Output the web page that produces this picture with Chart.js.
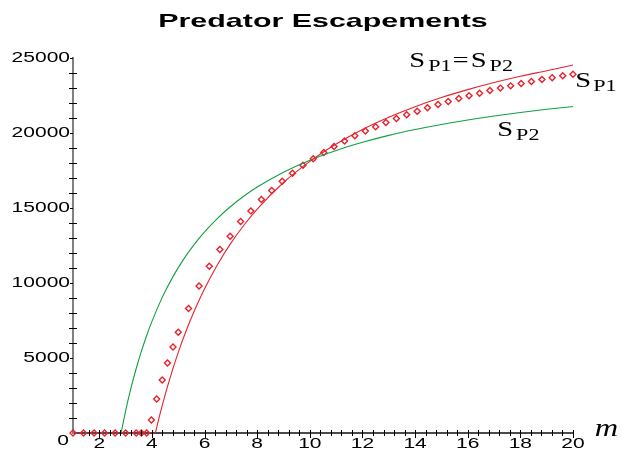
<!DOCTYPE html>
<html><head><meta charset="utf-8">
<script src="https://cdn.jsdelivr.net/npm/chart.js@4/dist/chart.umd.min.js"></script>
<style>html,body{margin:0;padding:0;background:#fff}#wrap{width:622px;height:451px;position:relative}</style>
</head><body><div id="wrap"><canvas id="c" width="622" height="451"></canvas></div>
<script>
// ---- data ----
const titleText = 'Predator Escapements';
const xTickLabels = [2, 4, 6, 8, 10, 12, 14, 16, 18, 20];
const yTickLabels = [0, 5000, 10000, 15000, 20000, 25000];

// S_P1 (diamond markers)
const mSP1 = [1.0, 1.4, 1.8, 2.2, 2.6, 3.0, 3.4, 3.6, 3.8, 3.98, 4.18, 4.39, 4.59, 4.8, 5.0,
  5.39, 5.79, 6.18, 6.58, 6.97, 7.37, 7.76, 8.16, 8.55, 8.95, 9.34, 9.74, 10.13,
  10.53, 10.92, 11.32, 11.71, 12.11, 12.50, 12.89, 13.29, 13.68, 14.08, 14.47, 14.87,
  15.26, 15.66, 16.05, 16.45, 16.84, 17.24, 17.63, 18.03, 18.42, 18.82, 19.21, 19.61, 20.0];
const valSP1 = [0, 0, 0, 0, 0, 0, 0, 0, 0, 870, 2270, 3530, 4670, 5730, 6710,
  8290, 9800, 11110, 12220, 13110, 14090, 14800, 15560, 16160, 16780, 17310, 17840, 18270,
  18690, 19090, 19460, 19800, 20120, 20410, 20690, 20960, 21200, 21440, 21670, 21890,
  22090, 22290, 22470, 22640, 22820, 22980, 23130, 23290, 23420, 23560, 23670, 23800, 23910];

// S_P1 = S_P2 (red line)
const mEq = [4.13, 4.3, 4.5, 4.7, 5.0, 5.3, 5.6, 6.0, 6.5, 7.0, 7.5, 8.0, 9.0, 10, 11, 12, 13, 14, 15, 16, 17, 18, 19, 20];
const valEq = [0, 1220, 2540, 3740, 5370, 6810, 8100, 9610, 11250, 12650, 13860, 14920, 16690, 18100, 19260, 20230, 21040, 21740, 22350, 22880, 23350, 23770, 24140, 24520];

// S_P2 (green line)
const mSP2 = [2.83, 3.0, 3.2, 3.4, 3.6, 3.8, 4.0, 4.4, 4.8, 5.2, 5.6, 6.0, 6.5, 7.0, 7.5, 8.0, 9.0, 10, 11, 12, 13, 14, 15, 16, 17, 18, 19, 20];
const valSP2 = [0, 1480, 2970, 4280, 5450, 6500, 7440, 9070, 10420, 11570, 12550, 13400, 14320, 15110, 15790, 16390, 17380, 18180, 18830, 19370, 19830, 20220, 20560, 20860, 21120, 21360, 21570, 21750];

// ---- styling ----
const RED = '#e8222c', GREEN = '#10a040';
const TICK_SX = 1.5, TITLE_SX = 1.6, SERIF_SX = 1.3;

const pts = (xs, ys) => xs.map((x, i) => ({x: x, y: ys[i]}));

function patchCtx(ctx) {
  if (ctx.__patched) return;
  ctx.__patched = true;
  const orig = ctx.fillText;
  ctx.fillText = function (t, x, y) {
    const f = this.font;
    let sx = 1;
    if (/Liberation Sans/.test(f)) sx = /bold|700/.test(f) ? TITLE_SX : TICK_SX;
    else if (/Liberation Serif/.test(f)) sx = SERIF_SX;
    if (sx === 1) return orig.call(this, t, x, y);
    this.save(); this.translate(x, y); this.scale(sx, 1); orig.call(this, t, 0, 0); this.restore();
  };
}

// label pieces: [text, size, baseline shift, extra gap before]
function drawPieces(ctx, x, y, pieces) {
  ctx.textAlign = 'left'; ctx.textBaseline = 'alphabetic'; ctx.fillStyle = '#000';
  let cx = x;
  for (const p of pieces) {
    cx += (p[3] || 0);
    ctx.font = p[1] + 'px "Liberation Serif"';
    ctx.fillText(p[0], cx, y + p[2]);
    cx += ctx.measureText(p[0]).width * SERIF_SX;
  }
}

const annotations = [
  {m: 13.78, v: 24420, pieces: [['S', 22, 0], ['P1', 17, 4, 3], ['=', 22, 0, 1], ['S', 22, 0, 2], ['P2', 17, 4, 3]]},
  {m: 20.09, v: 23070, pieces: [['S', 22, 0], ['P1', 17, 4, 2]]},
  {m: 17.12, v: 19800, pieces: [['S', 22, 0], ['P2', 17, 4, 3]]}
];

const decor = {
  id: 'decor',
  beforeInit(chart) { patchCtx(chart.ctx); },
  afterDraw(chart) {
    const ctx = chart.ctx, xs = chart.scales.x, ys = chart.scales.y;
    const axisY = ys.getPixelForValue(0), axisX = xs.getPixelForValue(1);
    ctx.save();
    ctx.strokeStyle = '#000'; ctx.lineWidth = 1;
    ctx.beginPath();
    for (const t of xs.ticks) {
      if (t.value <= 1.0001) continue;
      const px = Math.round(xs.getPixelForValue(t.value)) + 0.5;
      const major = xTickLabels.some(v => Math.abs(v - t.value) < 1e-6);
      ctx.moveTo(px, axisY - 3); ctx.lineTo(px, axisY + (major ? 5 : 3));
    }
    for (const t of ys.ticks) {
      if (t.value === 0) continue;
      const py = Math.round(ys.getPixelForValue(t.value)) + 0.5;
      const major = yTickLabels.includes(t.value);
      if (major) { ctx.moveTo(axisX - 3, py); ctx.lineTo(axisX, py); }
      else { ctx.moveTo(axisX - 4, py); ctx.lineTo(axisX + 4, py); }
    }
    ctx.stroke();
    // origin label
    ctx.font = '14px "Liberation Sans"'; ctx.fillStyle = '#000';
    ctx.textAlign = 'right'; ctx.textBaseline = 'middle';
    ctx.fillText(String(yTickLabels[0]), axisX - 4, axisY + 8);
    // curve labels
    for (const a of annotations) {
      drawPieces(ctx, xs.getPixelForValue(a.m), ys.getPixelForValue(a.v), a.pieces);
    }
    // axis name
    ctx.font = 'italic 25px "Liberation Serif"'; ctx.textAlign = 'left'; ctx.textBaseline = 'alphabetic';
    ctx.fillText('m', xs.getPixelForValue(20.83), ys.getPixelForValue(-230));
    ctx.restore();
  }
};

new Chart(document.getElementById('c'), {
  type: 'scatter',
  data: {
    datasets: [
      {label: 'S_P1=S_P2', data: pts(mEq, valEq), showLine: true, borderColor: RED, borderWidth: 1.1,
       pointRadius: 0, cubicInterpolationMode: 'monotone', clip: false},
      {label: 'S_P2', data: pts(mSP2, valSP2), showLine: true, borderColor: GREEN, borderWidth: 1.1,
       pointRadius: 0, cubicInterpolationMode: 'monotone', clip: false},
      {label: 'S_P1', data: pts(mSP1, valSP1), showLine: false, pointStyle: 'rectRot', pointRadius: 3,
       borderColor: RED, backgroundColor: 'rgba(0,0,0,0)', pointBorderWidth: 1.4, clip: false}
    ]
  },
  options: {
    responsive: false, animation: false, devicePixelRatio: 1,
    layout: {padding: {left: 0, right: 49, top: 0, bottom: 0}, autoPadding: false},
    plugins: {
      legend: {display: false}, tooltip: {enabled: false},
      title: {display: true, text: titleText, fullSize: false, color: '#000',
              font: {family: 'Liberation Sans', size: 19, weight: 'bold', lineHeight: 1.2},
              padding: {top: 10, bottom: 25}}
    },
    scales: {
      x: {type: 'linear', min: 1, max: 20,
          grid: {display: false, drawTicks: false},
          border: {display: true, color: '#4a4a4a', width: 2},
          ticks: {stepSize: 0.4, autoSkip: false, maxRotation: 0, maxTicksLimit: 100, padding: 3,
                  color: '#000', font: {family: 'Liberation Sans', size: 14},
                  callback: v => xTickLabels.some(l => Math.abs(l - v) < 1e-6) ? String(Math.round(v)) : ''},
          afterFit: s => { s.height = 18; }},
      y: {type: 'linear', min: 0, max: 25000,
          grid: {display: false, drawTicks: false},
          border: {display: true, color: '#808080', width: 2},
          ticks: {stepSize: 1000, autoSkip: false, maxTicksLimit: 100, padding: 3,
                  color: '#000', font: {family: 'Liberation Sans', size: 14},
                  callback: v => (v !== 0 && yTickLabels.includes(v)) ? String(v) : ''},
          afterFit: s => { s.width = 73; }}
    }
  },
  plugins: [decor]
});
</script></body></html>
